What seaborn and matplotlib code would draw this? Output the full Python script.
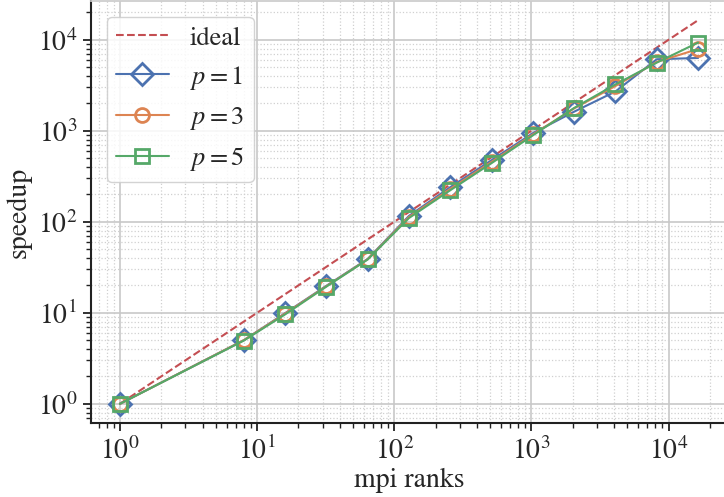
import numpy as np
import pandas as pd
import matplotlib
matplotlib.use("Agg")
import matplotlib.pyplot as plt
import seaborn as sns

# data
ranks = [1, 8, 16, 32, 64, 128, 256, 512, 1024, 2048, 4096, 8192, 16384]
ideal = [1, 8, 16, 32, 64, 128, 256, 512, 1024, 2048, 4096, 8192, 16384]
speedup_p1 = [1, 5.0, 9.9, 19.8, 39.0, 116, 240, 475, 940, 1620, 2700, 6100, 6300]
speedup_p3 = [1, 5.0, 9.8, 19.6, 38.8, 113, 230, 455, 910, 1760, 3100, 5700, 7900]
speedup_p5 = [1, 4.95, 9.6, 19.4, 38.5, 110, 222, 441, 890, 1780, 3230, 5600, 9300]
labels = ["ideal", "$p=1$", "$p=3$", "$p=5$"]

sns.set_theme(style="whitegrid")
plt.rcParams["font.family"] = ["STIXGeneral", "DejaVu Serif"]
plt.rcParams["mathtext.fontset"] = "stix"
plt.rcParams["font.size"] = 20

pal = sns.color_palette("deep")

fig = plt.figure(figsize=(7.24, 4.97), dpi=100)
ax = fig.add_axes([91 / 724, 74 / 497, 636 / 724, 422 / 497])

df = pd.DataFrame({"ranks": ranks, "ideal": ideal, "p1": speedup_p1,
                   "p3": speedup_p3, "p5": speedup_p5})

sns.lineplot(data=df, x="ranks", y="ideal", ax=ax, color=pal[3], linestyle="--",
             linewidth=1.5, label=labels[0])
series = [("p1", "D", pal[0], 11), ("p3", "o", pal[1], 10), ("p5", "s", pal[2], 10)]
for (col, mk, c, ms), lab in zip(series, labels[1:]):
    sns.lineplot(data=df, x="ranks", y=col, ax=ax, color=c, marker=mk,
                 markersize=ms, markerfacecolor="none", markeredgecolor=c,
                 markeredgewidth=2, linewidth=1.5, label=lab)

ax.set_xscale("log")
ax.set_yscale("log")
ax.margins(0.05)

ax.grid(True, which="major", color="#c8c8c8", linewidth=1.2, linestyle="-")
ax.grid(True, which="minor", color="#d0d0d0", linewidth=0.9, linestyle=":")
for side in ["left", "bottom"]:
    ax.spines[side].set_color("#222222")
    ax.spines[side].set_linewidth(1.5)
for side in ["top", "right"]:
    ax.spines[side].set_color("#cccccc")
ax.tick_params(which="major", axis="both", direction="out", length=6, width=1.3,
               color="#222222", left=True, bottom=True, labelsize=20, pad=4)
ax.tick_params(which="minor", axis="both", direction="out", length=3.5, width=1.0,
               color="#222222", left=True, bottom=True)

ax.set_xlabel("mpi ranks", fontsize=20, labelpad=2)
ax.set_ylabel("speedup", fontsize=20)

leg = ax.legend(loc="upper left", fontsize=19, frameon=True, fancybox=True,
                edgecolor="#cccccc", framealpha=0.85, handlelength=2.0,
                handletextpad=0.8, borderpad=0.35, labelspacing=0.5,
                borderaxespad=0.6)

fig.savefig("out.png", dpi=100)
